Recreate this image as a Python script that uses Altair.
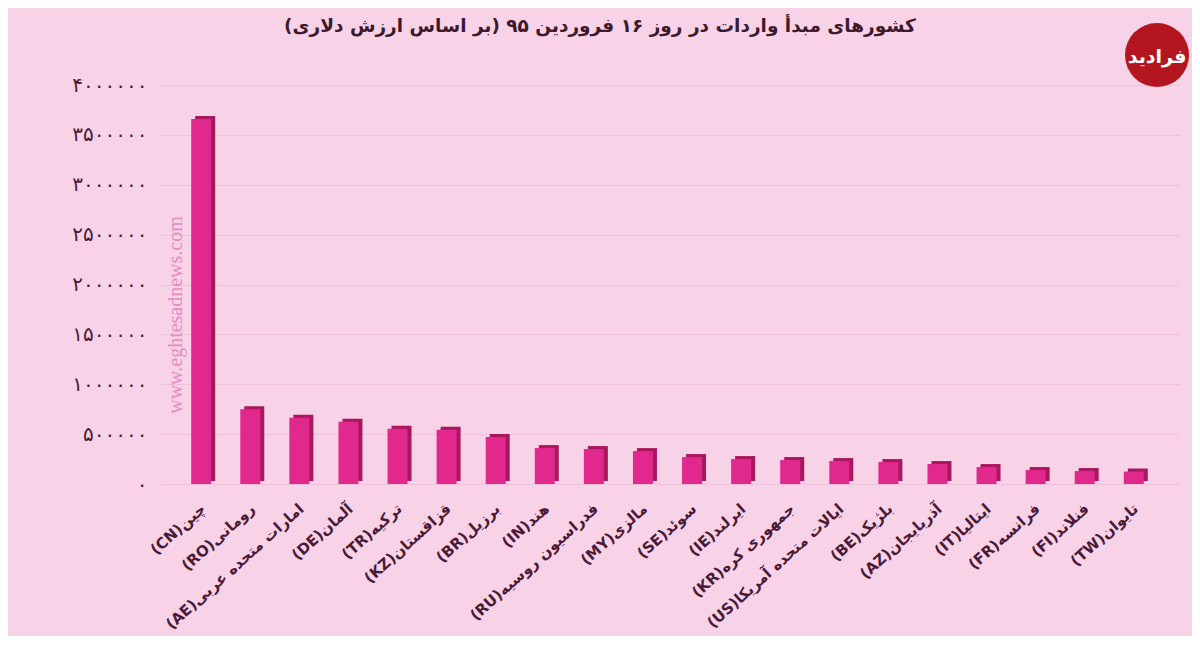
import altair as alt
import pandas as pd

# ---- data ----
codes = ["CN", "RO", "AE", "DE", "TR", "KZ", "BR", "IN", "RU", "MY",
         "SE", "IE", "KR", "US", "BE", "AZ", "IT", "FR", "FI", "TW"]
names_fa = ["چین", "رومانی", "امارات متحده عربی", "آلمان", "ترکیه", "قزاقستان",
            "برزیل", "هند", "فدراسیون روسیه", "مالزی", "سوئد", "ایرلند",
            "جمهوری کره", "ایالات متحده آمریکا", "بلژیک", "آذربایجان",
            "ایتالیا", "فرانسه", "فنلاند", "تایوان"]
values = [3660000, 750000, 665000, 625000, 555000, 545000, 470000, 360000,
          350000, 330000, 270000, 250000, 240000, 230000, 220000, 200000,
          170000, 140000, 130000, 125000]

y_ticks = [0, 500000, 1000000, 1500000, 2000000, 2500000, 3000000, 3500000, 4000000]
y_tick_labels = ["۰", "۵۰۰۰۰۰", "۱۰۰۰۰۰۰", "۱۵۰۰۰۰۰", "۲۰۰۰۰۰۰",
                 "۲۵۰۰۰۰۰", "۳۰۰۰۰۰۰", "۳۵۰۰۰۰۰", "۴۰۰۰۰۰۰"]

title_text = "\u200fکشورهای مبدأ واردات در روز ۱۶ فروردین ۹۵ (بر اساس ارزش دلاری)\u200f"
watermark = "www.eghtesadnews.com"
logo_text = "فرادید"

labels = ["(" + c + ")" + n for c, n in zip(codes, names_fa)]
df = pd.DataFrame({"label": labels, "value": values})

# label expression for Persian digit tick labels
expr = "''"
for v, l in reversed(list(zip(y_ticks, y_tick_labels))):
    expr = f"datum.value == {v} ? '{l}' : ({expr})"

FONT = "DejaVu Sans"
TXT = "#4a1a36"

x_enc = alt.X("label:N", sort=None, title=None,
              scale=alt.Scale(paddingInner=0, paddingOuter=0.38),
              axis=alt.Axis(labelAngle=-42, labelAlign="right", labelBaseline="middle",
                            labelFont=FONT, labelFontSize=15, labelFontWeight="bold",
                            labelColor=TXT, labelPadding=22, ticks=False, domain=False,
                            labelOverlap=False, labelLimit=300))
y_enc = alt.Y("value:Q", title=None,
              scale=alt.Scale(domain=[0, 4000000], nice=False),
              axis=alt.Axis(values=y_ticks, labelExpr=expr, labelFont=FONT,
                            labelFontSize=20, labelColor=TXT, labelPadding=13,
                            ticks=False, domain=False, gridColor="#efc2db",
                            gridWidth=1))

base = alt.Chart(df)

back = base.mark_bar(size=20, xOffset=2, yOffset=-3, color="#a9175f").encode(
    x=x_enc, y=y_enc)
front = base.mark_bar(size=20, xOffset=-2, color="#e0288d").encode(
    x=x_enc, y=y_enc)

title = alt.Chart(pd.DataFrame({"t": [title_text]})).mark_text(
    font=FONT, fontSize=18.5, fontWeight="bold", color="#3d1a2e",
    align="center", baseline="alphabetic").encode(
    x=alt.value(440), y=alt.value(-53), text="t:N")

wm = alt.Chart(pd.DataFrame({"t": [watermark]})).mark_text(
    angle=270, font="Liberation Serif", fontSize=20, color="#e58abf",
    align="center", baseline="middle").encode(
    x=alt.value(16), y=alt.value(230), text="t:N")

logo_c = alt.Chart(pd.DataFrame({"t": [logo_text]})).mark_point(
    filled=True, shape="circle", size=4100, color="#b3161f", opacity=1).encode(
    x=alt.value(997), y=alt.value(-30))
logo_t = alt.Chart(pd.DataFrame({"t": [logo_text]})).mark_text(
    font=FONT, fontSize=19, fontWeight="bold", color="white",
    align="center", baseline="middle").encode(
    x=alt.value(997), y=alt.value(-28), text="t:N")

chart = alt.layer(back, front, title, wm, logo_c, logo_t).properties(
    width=1019, height=399,
    background="#f8d3e8",
    autosize=alt.AutoSizeParams(type="none"),
    padding={"left": 152, "top": 77, "right": 13, "bottom": 152},
).configure_view(stroke=None)

chart.save("out.html", embed_options={"renderer": "svg", "actions": False})
